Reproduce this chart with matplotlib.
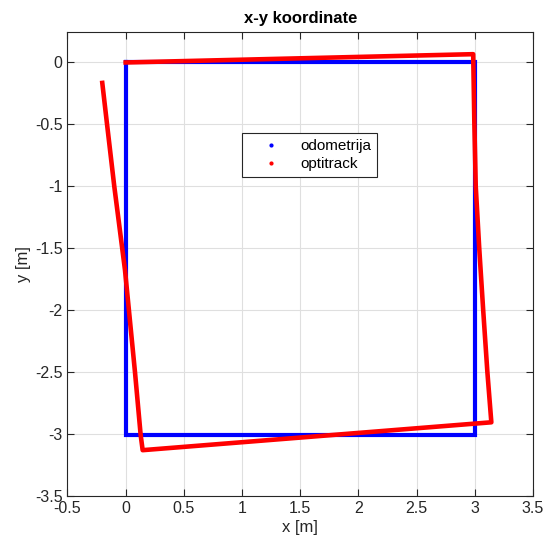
import matplotlib
matplotlib.use("Agg")
import matplotlib.pyplot as plt
from matplotlib.lines import Line2D

plt.rcParams['font.family'] = ['Liberation Sans', 'DejaVu Sans']

odo_x = [0.0, 3.0, 3.0, 0.0, 0.0]
odo_y = [0.0, 0.0, -3.01, -3.01, 0.0]
opt_x = [0.0, 2.986, 2.996, 3.008, 3.038, 3.072, 3.108, 3.142,
         0.146, 0.129, 0.080, -0.006, -0.098, -0.160, -0.201]
opt_y = [0.0, 0.067, -0.49, -1.0, -1.5, -2.0, -2.5, -2.905,
         -3.13, -3.01, -2.5, -1.675, -1.0, -0.5, -0.165]
xticks = [-0.5, 0, 0.5, 1, 1.5, 2, 2.5, 3, 3.5]
yticks = [-3.5, -3, -2.5, -2, -1.5, -1, -0.5, 0]

fig = plt.figure(figsize=(5.46, 5.48), dpi=100)
ax = fig.add_axes([0.1236, 0.0949, 0.8526, 0.8476])

ax.plot(odo_x, odo_y, color='#0000ff', lw=3.0, solid_joinstyle='miter', zorder=3)
ax.plot(opt_x, opt_y, color='#ff0000', lw=3.3, solid_joinstyle='round', zorder=4)

ax.set_xlim(-0.5, 3.5)
ax.set_ylim(-3.5, 0.25)
ax.set_xticks(xticks)
ax.set_xticklabels(['-0.5', '0', '0.5', '1', '1.5', '2', '2.5', '3', '3.5'])
ax.set_yticks(yticks)
ax.set_yticklabels(['-3.5', '-3', '-2.5', '-2', '-1.5', '-1', '-0.5', '0'])
ax.grid(True, color='#dfdfdf', lw=0.8)
ax.set_axisbelow(True)
ax.tick_params(direction='in', top=True, right=True, labelsize=11.5, colors='#262626', length=5, width=0.8)
for s in ax.spines.values():
    s.set_color('#262626')
    s.set_linewidth(0.8)

ax.set_xlabel('x [m]', fontsize=12, color='#262626', labelpad=3)
ax.set_ylabel('y [m]', fontsize=12, color='#262626', labelpad=3)
ax.set_title('x-y koordinate', fontsize=12, fontweight='bold', color='#000000', pad=6)

handles = [Line2D([], [], ls='none', marker='.', color='#0000ff', markersize=4),
           Line2D([], [], ls='none', marker='.', color='#ff0000', markersize=4)]
leg = ax.legend(handles, ['odometrija', 'optitrack'], loc='upper left',
                bbox_to_anchor=(0.375, 0.781), borderaxespad=0, fontsize=11, frameon=True,
                fancybox=False, edgecolor='#262626', framealpha=1,
                handlelength=3.0, borderpad=0.4, labelspacing=0.25, handletextpad=0.4)
leg.get_frame().set_linewidth(0.8)

fig.savefig('out.png', dpi=100)
